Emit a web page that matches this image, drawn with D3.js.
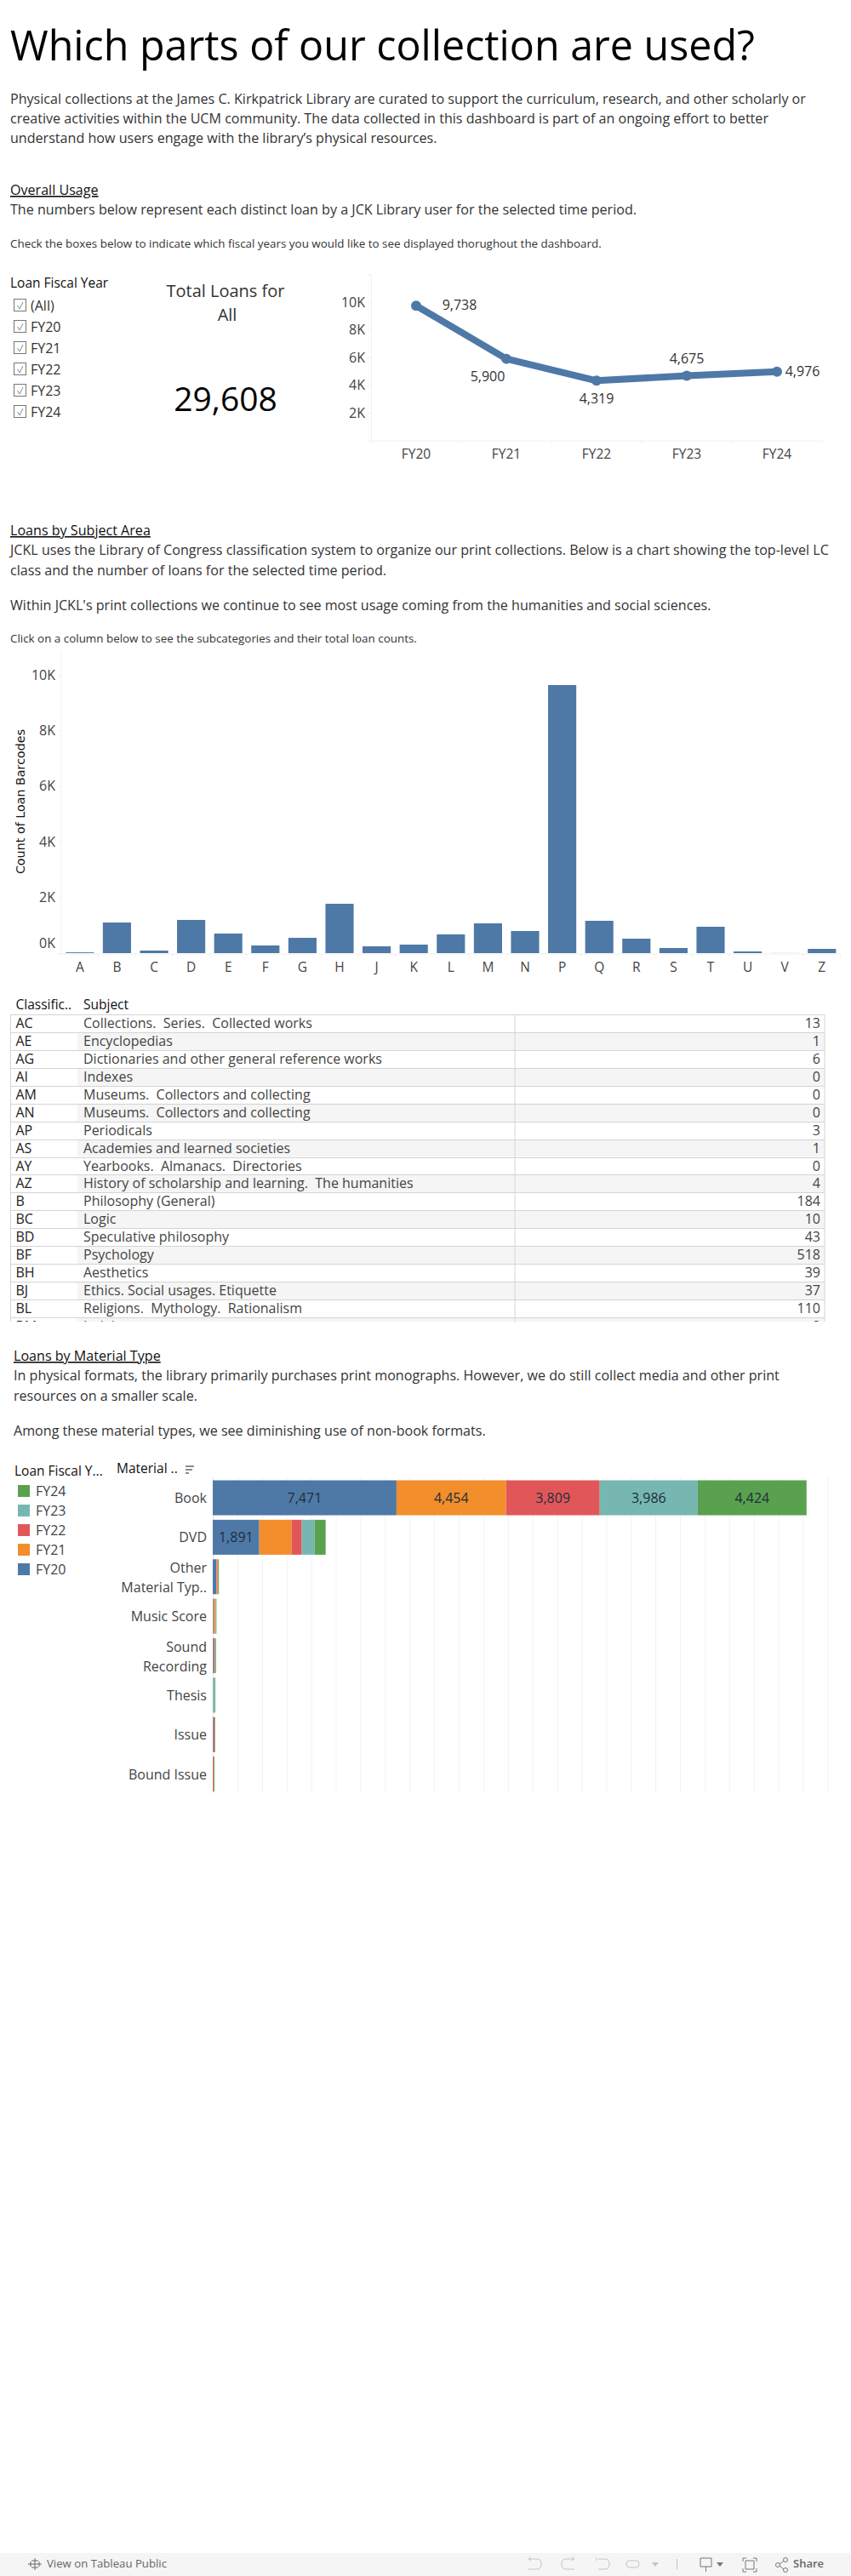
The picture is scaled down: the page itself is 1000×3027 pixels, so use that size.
<!DOCTYPE html>
<html><head><meta charset="utf-8">
<script src="https://cdn.jsdelivr.net/npm/d3@7"></script>
<style>html,body{margin:0;padding:0;background:#fff}svg{display:block}text{font-family:"Open Sans",sans-serif}</style>
</head><body><div id="c"></div>
<script>
const years=["FY20","FY21","FY22","FY23","FY24"];
const yearLoans=[9738,5900,4319,4675,4976];
const totalLoans="29,608";
const filterItems=["(All)","FY20","FY21","FY22","FY23","FY24"];
const lcClasses=["A","B","C","D","E","F","G","H","J","K","L","M","N","P","Q","R","S","T","U","V","Z"];
const lcLoans=[28,1100,92,1193,703,275,550,1774,245,306,673,1070,795,9633,1162,520,184,948,61,3,153];
const yTicksLine=[2000,4000,6000,8000,10000];
const yTicksBar=[0,2000,4000,6000,8000,10000];
const tableCodes=["AC","AE","AG","AI","AM","AN","AP","AS","AY","AZ","B","BC","BD","BF","BH","BJ","BL","BM"];
const tableSubjects=["Collections.  Series.  Collected works","Encyclopedias","Dictionaries and other general reference works","Indexes","Museums.  Collectors and collecting","Museums.  Collectors and collecting","Periodicals","Academies and learned societies","Yearbooks.  Almanacs.  Directories","History of scholarship and learning.  The humanities","Philosophy (General)","Logic","Speculative philosophy","Psychology","Aesthetics","Ethics. Social usages. Etiquette","Religions.  Mythology.  Rationalism","Judaism"];
const tableCounts=[13,1,6,0,0,0,3,1,0,4,184,10,43,518,39,37,110,8];
const materials=["Book","DVD","Other Material Typ..","Music Score","Sound Recording","Thesis","Issue","Bound Issue"];
const matFY20=[7471,1891,150,25,25,3,25,2];
const matFY21=[4454,1315,35,70,5,2,5,2];
const matFY22=[3809,415,30,10,45,2,40,35];
const matFY23=[3986,519,5,25,25,75,5,2];
const matFY24=[4424,450,30,20,30,25,25,30];
const matLabels=[[7471,4454,3809,3986,4424],[1891]];
const legendYears=["FY24","FY23","FY22","FY21","FY20"];
const yearColors=["#4e79a7","#f28e2b","#e15759","#76b7b2","#59a14f"];
const BLUE="#4e79a7";

const svg=d3.select("#c").append("svg").attr("width",1000).attr("height",3027).attr("viewBox","0 0 1000 3027");
function T(x,y,s,size,opt={}){
  const t=svg.append("text").attr("x",x).attr("y",y).text(s).attr("font-size",size)
    .attr("fill",opt.fill||"#333").attr("text-anchor",opt.anchor||"start");
  if(opt.weight)t.attr("font-weight",opt.weight);
  if(opt.underline)t.attr("text-decoration","underline");
  t.style("white-space","pre");
  return t;
}
// ---------- text blocks
T(12,71,"Which parts of our collection are used?",48.4,{fill:"#000"});
T(12,122,"Physical collections at the James C. Kirkpatrick Library are curated to support the curriculum, research, and other scholarly or",16.1);
T(12,145,"creative activities within the UCM community. The data collected in this dashboard is part of an ongoing effort to better",16.1);
T(12,168,"understand how users engage with the library\u2019s physical resources.",16.1);
T(12,229,"Overall Usage",16.1,{underline:true,fill:"#111"});
T(12,252,"The numbers below represent each distinct loan by a JCK Library user for the selected time period.",16.1);
T(12,291,"Check the boxes below to indicate which fiscal years you would like to see displayed thorughout the dashboard.",13.4);
T(12,629,"Loans by Subject Area",16.1,{underline:true,fill:"#111"});
T(12,652,"JCKL uses the Library of Congress classification system to organize our print collections. Below is a chart showing the top-level LC",16.1);
T(12,676,"class and the number of loans for the selected time period.",16.1);
T(12,717,"Within JCKL's print collections we continue to see most usage coming from the humanities and social sciences.",16.1);
T(12,755,"Click on a column below to see the subcategories and their total loan counts.",13.4);
T(16,1599,"Loans by Material Type",16.1,{underline:true,fill:"#111"});
T(16,1622,"In physical formats, the library primarily purchases print monographs. However, we do still collect media and other print",16.1);
T(16,1646,"resources on a smaller scale.",16.1);
T(16,1687,"Among these material types, we see diminishing use of non-book formats.",16.1);

// ---------- filter
T(12,338,"Loan Fiscal Year",15.5,{fill:"#111",weight:500});
filterItems.forEach((s,i)=>{
  const cy=359+i*25;
  svg.append("rect").attr("x",16.5).attr("y",cy-7.5).attr("width",14).attr("height",14).attr("fill","#fff").attr("stroke","#767676").attr("stroke-width",1);
  svg.append("path").attr("d",`M20.5 ${cy} L23 ${cy+4} L27 ${cy-4}`).attr("fill","none").attr("stroke","#888").attr("stroke-width",1);
  T(36,cy+5.5,s,16);
});
// ---------- KPI
T(265,349,"Total Loans for",20,{anchor:"middle"});
T(267,377,"All",20,{anchor:"middle"});
T(265,483,totalLoans,39,{anchor:"middle",fill:"#000"});

// ---------- line chart
{
  const x=d3.scaleBand().domain(years).range([436,966]);
  const y=d3.scaleLinear().domain([0,12000]).range([517.5,322.5]);
  const gy=svg.append("g").attr("transform","translate(436,0)").call(d3.axisLeft(y).tickValues(yTicksLine).tickFormat(d=>d/1000+"K").tickSize(4));
  const gx=svg.append("g").attr("transform","translate(0,517.5)").call(d3.axisBottom(x).tickSize(0));
  gy.selectAll(".domain,line").attr("stroke","#f0f0f0");gx.select(".domain").attr("stroke","#f0f0f0");
  gy.selectAll("text").attr("font-size",16).attr("fill","#444").attr("x",-7).style("font-family",'"Open Sans"');
  gx.selectAll("text").attr("font-size",15.5).attr("fill","#444").attr("dy",0).attr("y",21).style("font-family",'"Open Sans"');
  gx.selectAll(".edge").data(d3.range(6)).enter().append("line").attr("x1",d=>x.range()[0]+d*x.bandwidth()).attr("x2",d=>x.range()[0]+d*x.bandwidth()).attr("y1",0).attr("y2",4).attr("stroke","#f0f0f0");
  const cx=i=>x(years[i])+x.bandwidth()/2;
  svg.append("path").datum(yearLoans).attr("fill","none").attr("stroke",BLUE).attr("stroke-width",8).attr("stroke-linejoin","round")
    .attr("d",d3.line().x((d,i)=>cx(i)).y(d=>y(d)));
  svg.selectAll(".pt").data(yearLoans).enter().append("circle").attr("cx",(d,i)=>cx(i)).attr("cy",d=>y(d)).attr("r",6).attr("fill",BLUE);
  const off=[[51,5],[-22,26],[0,27],[0,-15],[30,5]];
  yearLoans.forEach((v,i)=>T(cx(i)+off[i][0],y(v)+off[i][1],d3.format(",")(v),16,{anchor:"middle"}));
}

// ---------- bar chart
{
  const x=d3.scaleBand().domain(lcClasses).range([72,987.6]).paddingInner(0.24).paddingOuter(0.12);
  const y=d3.scaleLinear().domain([0,10000]).range([1120,793]);
  const gy=svg.append("g").attr("transform","translate(72,0)").call(d3.axisLeft(y).tickValues(yTicksBar).tickFormat(d=>d/1000+"K").tickSize(4));
  const gx=svg.append("g").attr("transform","translate(0,1120.5)").call(d3.axisBottom(x).tickSize(0));
  gy.select(".domain").attr("d","M0,765V1120");
  gy.selectAll(".domain,line").attr("stroke","#f0f0f0");gx.select(".domain").attr("stroke","#f0f0f0");
  gy.selectAll("text").attr("font-size",16).attr("fill","#444").attr("x",-7).style("font-family",'"Open Sans"');
  gy.selectAll(".tick").filter(d=>d===0).select("text").attr("dy","-0.38em");
  gx.selectAll("text").attr("font-size",15.5).attr("fill","#444").attr("y",21).attr("dy",0).style("font-family",'"Open Sans"');
  const step=x.step();
  gx.selectAll(".edge").data(d3.range(22)).enter().append("line").attr("x1",d=>72+d*step).attr("x2",d=>72+d*step).attr("y1",0).attr("y2",4).attr("stroke","#f0f0f0");
  svg.selectAll(".bar").data(lcLoans).enter().append("rect").attr("x",(d,i)=>x(lcClasses[i])).attr("width",x.bandwidth())
    .attr("y",d=>y(d)).attr("height",d=>y(0)-y(d)).attr("fill",BLUE);
  svg.append("text").attr("transform","translate(29,942) rotate(-90)").attr("text-anchor","middle").text("Count of Loan Barcodes")
    .attr("font-size",14.3).attr("fill","#111").style("font-family","'DejaVu Sans'");
}

// ---------- table
{
  T(18.5,1186,"Classific..",15.5,{fill:"#111",weight:500});
  T(98,1186,"Subject",15.5,{fill:"#111",weight:500});
  svg.append("clipPath").attr("id","tb").append("rect").attr("x",0).attr("y",1190).attr("width",1000).attr("height",363);
  const g=svg.append("g").attr("clip-path","url(#tb)");
  const rh=356/17;
  const y=d3.scaleLinear().domain([0,17]).range([1192,1548]);
  tableCodes.forEach((c,i)=>{
    if(i%2===1)g.append("rect").attr("x",91).attr("y",y(i)).attr("width",878).attr("height",rh).attr("fill","#f5f5f5");
    g.append("line").attr("x1",12).attr("x2",969).attr("y1",Math.round(y(i))+.5).attr("y2",Math.round(y(i))+.5).attr("stroke","#d4d4d4").attr("stroke-width",1);
    const tx=(xx,s,an,fill,w)=>{const t=g.append("text").attr("x",xx).attr("y",y(i)+16).text(s).attr("font-size",16).attr("text-anchor",an).attr("fill",fill).style("white-space","pre");if(w)t.attr("font-weight",w);};
    tx(18.5,c,"start","#222",500);
    tx(98,tableSubjects[i],"start","#444");
    tx(964,tableCounts[i],"end","#444");
  });
  g.append("line").attr("x1",12).attr("x2",969).attr("y1",1548.5).attr("y2",1548.5).attr("stroke","#d4d4d4");
  [12.5,605,969].forEach(xx=>g.append("line").attr("x1",xx).attr("x2",xx).attr("y1",1192).attr("y2",1553).attr("stroke","#d4d4d4"));
}

// ---------- stacked bars
{
  const rows=materials.map((m,i)=>({m,FY20:matFY20[i],FY21:matFY21[i],FY22:matFY22[i],FY23:matFY23[i],FY24:matFY24[i]}));
  const series=d3.stack().keys(years)(rows);
  const x=d3.scaleLinear().domain([0,25000]).range([250,972.5]);
  const y=d3.scaleBand().domain(materials).range([1736.7,2108]).paddingInner(0.115).paddingOuter(0.06);
  d3.range(0,26000,1000).forEach(v=>svg.append("line").attr("x1",x(v)+.5).attr("x2",x(v)+.5).attr("y1",1736).attr("y2",2107).attr("stroke",v===0?"#e6e6e6":"#f2f2f2"));
  const color=d3.scaleOrdinal(years,yearColors);
  series.forEach(s=>{
    svg.selectAll(".s"+s.key).data(s).enter().append("rect").attr("x",d=>x(d[0])).attr("width",d=>x(d[1])-x(d[0]))
      .attr("y",d=>y(d.data.m)).attr("height",y.bandwidth()).attr("fill",color(s.key));
  });
  matLabels.forEach((vals,r)=>vals.forEach((v,k)=>{
    const d=series[k][r];
    T((x(d[0])+x(d[1]))/2,y(materials[r])+y.bandwidth()/2+6,d3.format(",")(v),16,{anchor:"middle",fill:"#1f2d3a"});
  }));
  const lines={"Other Material Typ..":["Other","Material Typ.."],"Sound Recording":["Sound","Recording"]};
  materials.forEach(m=>{
    const c=y(m)+y.bandwidth()/2;
    const l=lines[m];
    if(l){T(243,c-4.5,l[0],16,{anchor:"end",fill:"#444"});T(243,c+18.5,l[1],16,{anchor:"end",fill:"#444"});}
    else T(243,c+6,m,16,{anchor:"end",fill:"#444"});
  });
  T(17,1734,"Loan Fiscal Y...",15.5,{fill:"#111",weight:500});
  T(137,1731,"Material ..",15.5,{fill:"#111",weight:500});
  [[218,228,1723],[218,226,1727],[218,222,1731]].forEach(a=>svg.append("line").attr("x1",a[0]).attr("x2",a[1]).attr("y1",a[2]).attr("y2",a[2]).attr("stroke","#666").attr("stroke-width",1.5));
  legendYears.forEach((s,i)=>{
    const top=1745+i*23;
    svg.append("rect").attr("x",21).attr("y",top).attr("width",14).attr("height",14).attr("fill",color(s));
    T(42,top+13,s,16,{fill:"#444"});
  });
}

// ---------- footer toolbar
{
  svg.append("rect").attr("x",0).attr("y",3000).attr("width",1000).attr("height",27).attr("fill","#f5f5f5");
  const G="#c4c4c4";
  const gi=svg.append("g").attr("stroke","#666").attr("stroke-width",1).attr("fill","none");
  [[41,3006,3020],[36,3010,3016],[46,3010,3016]].forEach(a=>gi.append("line").attr("x1",a[0]).attr("x2",a[0]).attr("y1",a[1]).attr("y2",a[2]));
  [[33,49,3013],[37,45,3009],[37,45,3017]].forEach(a=>gi.append("line").attr("x1",a[0]).attr("x2",a[1]).attr("y1",a[2]).attr("y2",a[2]));
  T(55,3017,"View on Tableau Public",13.2,{fill:"#666"});
  const ic=svg.append("g").attr("fill","none").attr("stroke",G).attr("stroke-width",1);
  ic.append("path").attr("d","M621 3007 H631 Q636 3007 636 3013 Q636 3019 631 3019 H621 M621 3007 l3 -2 M621 3007 l3 2");
  ic.append("path").attr("d","M675 3007 H665 Q660 3007 660 3013 Q660 3019 665 3019 H675 M675 3007 l-3 -2 M675 3007 l-3 2");
  ic.append("path").attr("d","M701 3005 V3009 M703 3007 H711 Q716 3007 716 3013 Q716 3019 711 3019 H703");
  ic.append("path").attr("d","M739 3009 H748 Q751 3009 751 3013 Q751 3017 748 3017 H739 Q736 3017 736 3013 Q736 3009 739 3009");
  svg.append("path").attr("d","M766 3011 h8 l-4 5 z").attr("fill",G);
  ic.append("line").attr("x1",795.5).attr("x2",795.5).attr("y1",3007).attr("y2",3019);
  const dk=svg.append("g").attr("fill","none").attr("stroke","#777").attr("stroke-width",1);
  dk.append("path").attr("d","M823 3006 H836 V3016 H823 Z M829.5 3016 V3022");
  svg.append("path").attr("d","M842 3011 h8 l-4 5 z").attr("fill","#777");
  dk.append("path").attr("d","M873 3010 V3006 H877 M885 3006 H889 V3010 M889 3018 V3022 H885 M877 3022 H873 V3018 M876 3009 H886 V3019 H876 Z");
  dk.append("circle").attr("cx",914).attr("cy",3014).attr("r",2.5);
  dk.append("circle").attr("cx",923).attr("cy",3008).attr("r",2.5);
  dk.append("circle").attr("cx",923).attr("cy",3020).attr("r",2.5);
  dk.append("path").attr("d","M916 3013 L921 3009 M916 3015 L921 3019");
  T(932,3017,"Share",13,{fill:"#666",weight:600});
}
</script></body></html>
